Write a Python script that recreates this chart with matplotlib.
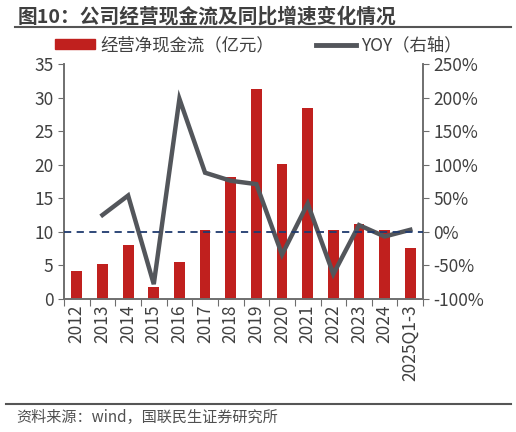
import numpy as np
import matplotlib
matplotlib.use("Agg")
import matplotlib.pyplot as plt
from matplotlib.lines import Line2D
from matplotlib.patches import Rectangle
from matplotlib.ticker import FuncFormatter

plt.rcParams['font.family'] = ['Noto Sans CJK SC', 'DejaVu Sans']

# 数据
years = ['2012', '2013', '2014', '2015', '2016', '2017', '2018', '2019',
         '2020', '2021', '2022', '2023', '2024', '2025Q1-3']
cash_flow = [4.2, 5.2, 8.0, 1.8, 5.5, 10.3, 18.2, 31.2, 20.1, 28.4, 10.2, 11.2, 10.3, 7.55]
yoy = [np.nan, 25, 54, -78, 198, 88, 76, 71, -34, 42, -63, 10, -7, 3]

bar_color = '#C0201E'
line_color = '#53565B'
txt_color = '#404040'
axis_color = '#6E6E6E'

fig = plt.figure(figsize=(5.16, 4.32), dpi=100)
ax = fig.add_axes([0.124, 0.308, 0.696, 0.544])
ax2 = ax.twinx()

x = np.arange(len(years))
ax.bar(x, cash_flow, width=0.42, color=bar_color, zorder=2)
ax2.plot(x, yoy, color=line_color, lw=3.2, zorder=3, solid_joinstyle='miter')
ax2.axhline(0, color='#1F3A6E', lw=1.3, ls=(0, (4, 3)), zorder=4)

ax.set_xlim(-0.5, len(years) - 0.5)
ax.set_ylim(0, 35)
ax.set_yticks(np.arange(0, 36, 5))
ax2.set_ylim(-100, 250)
ax2.set_yticks(np.arange(-100, 251, 50))
ax2.yaxis.set_major_formatter(FuncFormatter(lambda v, p: f'{int(v)}%'))

# x轴刻度放在类别边界
ax.set_xticks(np.arange(-0.5, len(years), 1.0))
ax.set_xticklabels([])
ax.set_xticks(x, minor=True)
ax.set_xticklabels(years, minor=True, rotation=90, fontsize=12.5, color=txt_color)
ax.tick_params(axis='x', which='minor', length=0, pad=4)
ax.tick_params(axis='x', which='major', length=5, color=axis_color, direction='out')
ax.tick_params(axis='y', length=4, color=axis_color, labelsize=12.5, labelcolor=txt_color)
ax2.tick_params(axis='y', length=4, color=axis_color, labelsize=12.5, labelcolor=txt_color)

for a in (ax, ax2):
    a.spines['top'].set_visible(False)
    for s in ('left', 'right', 'bottom'):
        a.spines[s].set_color(axis_color)
        a.spines[s].set_linewidth(1.2)

# 图例
handles = [Rectangle((0, 0), 1, 1, color=bar_color),
           Line2D([0], [0], color=line_color, lw=3.5)]
fig.legend(handles, ['经营净现金流（亿元）', 'YOY（右轴）'], loc='center left',
           bbox_to_anchor=(0.09, 0.895), ncol=2, frameon=False, fontsize=12.5,
           labelcolor=txt_color, handlelength=2.3, handleheight=0.55,
           handletextpad=0.3, columnspacing=2.4, borderpad=0)

# 标题与来源
fig.text(0.035, 0.962, '图10：公司经营现金流及同比增速变化情况', fontsize=14.2,
         fontweight='bold', color='#3F3F3F', va='center', ha='left')
fig.add_artist(Line2D([0.03, 0.99], [0.938, 0.938], color='#555555', lw=1.5))
fig.add_artist(Line2D([0.012, 0.99], [0.065, 0.065], color='#555555', lw=1.5))
fig.text(0.032, 0.034, '资料来源：wind，国联民生证券研究所', fontsize=10.9,
         color='#505050', va='center', ha='left')

fig.savefig('out.png', dpi=100)
